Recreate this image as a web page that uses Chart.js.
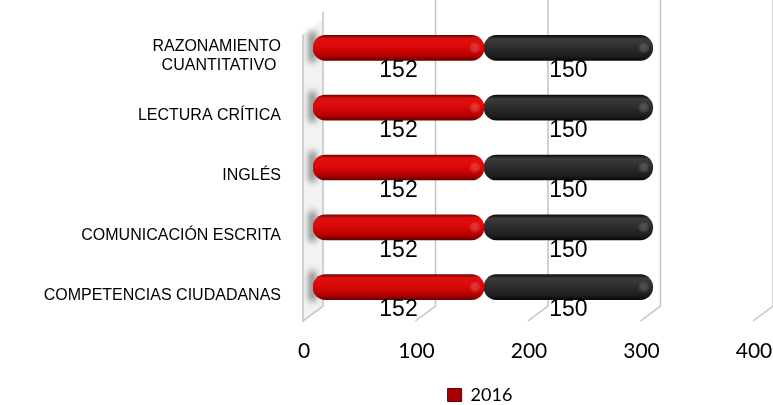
<!DOCTYPE html>
<html>
<head>
<meta charset="utf-8">
<script src="https://cdn.jsdelivr.net/npm/chart.js@4"></script>
<style>
  html, body { margin: 0; padding: 0; background: #fff; }
  #wrap { width: 773px; height: 405px; }
</style>
</head>
<body>
<div id="wrap"><canvas id="resultados"></canvas></div>
<script>
/* Resultados por competencia - barras 3D horizontales */

const categories = [
  ['RAZONAMIENTO', 'CUANTITATIVO '],
  'LECTURA CRÍTICA',
  'INGLÉS',
  'COMUNICACIÓN ESCRITA',
  'COMPETENCIAS CIUDADANAS'
];
const values2016 = [152, 152, 152, 152, 152];
const valuesOther = [150, 150, 150, 150, 150];
const xTicks = [0, 100, 200, 300, 400];
const legendLabel = '2016';

// depth of the fake 3D box
const DX = 10;
const DY = 7.5;

function barGradient(stops, fallback) {
  return function (ctx) {
    const chart = ctx.chart;
    if (!chart.chartArea || typeof ctx.dataIndex !== 'number') return fallback;
    const y = chart.scales.y.getPixelForValue(ctx.dataIndex);
    const g = chart.ctx.createLinearGradient(0, y - 12.5, 0, y + 12.5);
    stops.forEach(s => g.addColorStop(s[0], s[1]));
    return g;
  };
}

const redStops = [[0, '#7a0000'], [0.12, '#d81010'], [0.4, '#e00a0a'], [0.8, '#b80000'], [1, '#6a0000']];
const blackStops = [[0, '#0c0c0c'], [0.15, '#3c3c3c'], [0.45, '#2e2e2e'], [0.85, '#1c1c1c'], [1, '#080808']];
const capsule = {topLeft: 12.5, topRight: 12.5, bottomLeft: 12.5, bottomRight: 12.5};

// 3D walls and gridlines
const box3d = {
  id: 'box3d',
  afterLayout(chart) {
    // legend sits right of the page centre and low, as in the original sheet
    chart.legend.left = 197;
    chart.legend.top += 9;
    chart.legend.bottom += 9;
  },
  beforeDatasetsDraw(chart) {
    const {ctx, chartArea, scales} = chart;
    const bottom = chartArea.bottom - 3.5;
    ctx.save();

    // left wall
    const x0 = scales.x.getPixelForValue(0);
    ctx.beginPath();
    ctx.moveTo(x0 - DX, chartArea.top + 9 + DY);
    ctx.lineTo(x0 + DX, chartArea.top + 9 - DY);
    ctx.lineTo(x0 + DX, bottom - DY);
    ctx.lineTo(x0 - DX, bottom + DY);
    ctx.closePath();
    ctx.fillStyle = '#f2f2f2';
    ctx.fill();

    // shadows of the bars on the wall
    ctx.filter = 'blur(3px)';
    ctx.fillStyle = 'rgba(100,100,100,0.8)';
    categories.forEach((c, i) => {
      const y = scales.y.getPixelForValue(i);
      ctx.fillRect(x0 - 4, y - 16, 7, 30);
    });
    ctx.filter = 'none';

    ctx.strokeStyle = '#c4c4c4';
    ctx.lineWidth = 1.5;
    ctx.beginPath();
    ctx.moveTo(x0 - DX, chartArea.top + 9 + DY);
    ctx.lineTo(x0 - DX, bottom + DY);
    ctx.lineTo(x0 + DX, bottom - DY);
    ctx.lineTo(x0 + DX, chartArea.top - 6);
    ctx.stroke();

    // back gridlines and floor diagonals
    xTicks.slice(1).forEach(v => {
      const px = scales.x.getPixelForValue(v);
      ctx.beginPath();
      ctx.moveTo(px + DX, 0);
      ctx.lineTo(px + DX, bottom - DY);
      ctx.lineTo(px - DX, bottom + DY);
      ctx.stroke();
    });
    ctx.restore();
  }
};

// value labels under each segment, plus a soft shine at the bar ends
const valueLabels = {
  id: 'valueLabels',
  afterDatasetsDraw(chart) {
    const ctx = chart.ctx;
    ctx.save();
    chart.data.datasets.forEach((ds, di) => {
      chart.getDatasetMeta(di).data.forEach(bar => {
        const g = ctx.createRadialGradient(bar.x - 9, bar.y, 0, bar.x - 9, bar.y, 6);
        g.addColorStop(0, di === 0 ? 'rgba(255,80,80,0.45)' : 'rgba(130,130,130,0.4)');
        g.addColorStop(1, 'rgba(255,255,255,0)');
        ctx.fillStyle = g;
        ctx.fillRect(bar.x - 16, bar.y - 7, 14, 14);
      });
    });
    ctx.font = '23px "Liberation Sans", Arial, sans-serif';
    ctx.fillStyle = '#000';
    ctx.textAlign = 'center';
    ctx.textBaseline = 'middle';
    chart.data.datasets.forEach((ds, di) => {
      chart.getDatasetMeta(di).data.forEach((bar, i) => {
        ctx.fillText(String(ds.data[i]), (bar.x + bar.base) / 2, bar.y + 23);
      });
    });
    ctx.restore();
  }
};

const chartEl = document.getElementById('resultados');

new Chart(chartEl, {
  type: 'bar',
  data: {
    labels: categories,
    datasets: [{
      label: legendLabel,
      data: values2016,
      backgroundColor: barGradient(redStops, '#c00000'),
      borderRadius: capsule,
      borderSkipped: false,
      barThickness: 25
    }, {
      label: '',
      data: valuesOther,
      backgroundColor: barGradient(blackStops, '#222'),
      borderRadius: capsule,
      borderSkipped: false,
      barThickness: 25
    }]
  },
  options: {
    indexAxis: 'y',
    responsive: true,
    maintainAspectRatio: false,
    animation: false,
    layout: {
      padding: {left: 0, right: 10, top: 18, bottom: 0}
    },
    scales: {
      x: {
        stacked: true,
        min: 0,
        max: 400,
        afterBuildTicks: axis => { axis.ticks = xTicks.map(v => ({value: v})); },
        afterFit: axis => { axis.height = 58; axis.paddingLeft = 0; axis.paddingRight = 0; },
        grid: {display: false, drawTicks: false},
        border: {display: false},
        ticks: {
          padding: 22,
          labelOffset: -9,
          color: '#000',
          font: {family: 'Lato', size: 21}
        }
      },
      y: {
        stacked: true,
        afterFit: axis => { axis.width = 313; axis.paddingTop = 0; axis.paddingBottom = 0; },
        grid: {display: false, drawTicks: false},
        border: {display: false},
        ticks: {
          padding: 32,
          labelOffset: 8,
          color: '#000',
          font: {family: '"Liberation Sans", Arial, sans-serif', size: 16}
        }
      }
    },
    plugins: {
      tooltip: {enabled: false},
      legend: {
        position: 'bottom',
        labels: {
          boxWidth: 14,
          boxHeight: 13,
          padding: 2,
          color: '#000',
          font: {family: 'Lato', size: 18},
          generateLabels: () => [{
            text: legendLabel,
            fillStyle: '#a80000',
            strokeStyle: '#5a0000',
            lineWidth: 1,
            datasetIndex: 0
          }]
        }
      }
    }
  },
  plugins: [box3d, valueLabels]
});
</script>
</body>
</html>
